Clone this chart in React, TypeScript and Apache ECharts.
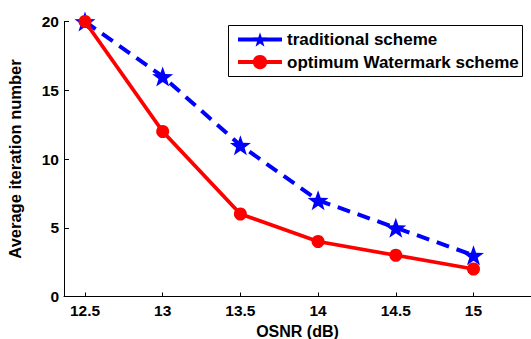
import React, { useEffect, useRef } from "react";
import * as echarts from "echarts";

const osnr = [12.5, 13, 13.5, 14, 14.5, 15];
const traditional = [20, 16, 11, 7, 5, 3];
const optimum = [20, 12, 6, 4, 3, 2];
const xTicks = [12.5, 13, 13.5, 14, 14.5, 15];
const yTicks = [0, 5, 10, 15, 20];

const STAR =
  "path://M0,-10 L2.35,-3.24 L9.51,-3.09 L3.8,1.24 L5.88,8.09 L0,4 L-5.88,8.09 L-3.8,1.24 L-9.51,-3.09 L-2.35,-3.24 Z";

const FONT = "'Liberation Sans', Arial, Helvetica, sans-serif";

export default function App() {
  const ref = useRef<HTMLDivElement>(null);
  useEffect(() => {
    if (!ref.current) return;
    const chart = echarts.init(ref.current, null, { renderer: "svg" });
    chart.setOption({
      animation: false,
      backgroundColor: "#ffffff",
      textStyle: { fontFamily: FONT },
      grid: {
        left: 64,
        right: 0,
        top: 21.5,
        bottom: 42.5,
        containLabel: false,
        outerBoundsMode: "none",
      },
      xAxis: {
        type: "value",
        min: 12.365,
        max: 15.37,
        name: "OSNR (dB)",
        nameLocation: "middle",
        nameGap: 22,
        nameTextStyle: { fontSize: 16, fontWeight: "bold", color: "#000", fontFamily: FONT },
        axisLine: { show: true, onZero: false, lineStyle: { color: "#000", width: 1 } },
        axisTick: { show: true, inside: true, length: 4, customValues: xTicks, lineStyle: { color: "#000" } },
        axisLabel: {
          customValues: xTicks,
          fontSize: 15.5,
          fontWeight: "bold",
          color: "#000",
          margin: 6,
          fontFamily: FONT,
          formatter: (v: number) => String(v),
        },
        splitLine: { show: false },
      },
      yAxis: {
        type: "value",
        min: 0,
        max: 20,
        interval: 5,
        name: "Average iteration number",
        nameLocation: "middle",
        nameGap: 41,
        nameTextStyle: { fontSize: 16.5, fontWeight: "bold", color: "#000", fontFamily: FONT },
        axisLine: { show: true, lineStyle: { color: "#000", width: 1 } },
        axisTick: { show: true, inside: true, length: 5, customValues: yTicks, lineStyle: { color: "#000" } },
        axisLabel: {
          customValues: yTicks,
          fontSize: 15.5,
          fontWeight: "bold",
          color: "#000",
          margin: 5,
          fontFamily: FONT,
        },
        splitLine: { show: false },
      },
      legend: {
        orient: "vertical",
        left: 236,
        top: 31,
        itemWidth: 44,
        itemHeight: 18,
        itemGap: 5.6,
        padding: 0,
        lineStyle: { type: "solid", width: 4 },
        textStyle: { fontSize: 17, fontWeight: "bold", color: "#000", fontFamily: FONT },
        data: ["traditional scheme", "optimum Watermark scheme"],
      },
      graphic: [
        {
          type: "rect",
          shape: { x: 228.5, y: 25.5, width: 294, height: 51 },
          style: { fill: "none", stroke: "#000", lineWidth: 1 },
          z: 0,
          silent: true,
        },
      ],
      series: [
        {
          name: "traditional scheme",
          type: "line",
          data: osnr.map((x, i) => [x, traditional[i]]),
          color: "#0000ff",
          lineStyle: { color: "#0000ff", width: 4, type: [13, 8] },
          symbol: STAR,
          symbolSize: 21,
          symbolKeepAspect: true,
          itemStyle: { color: "#0000ff" },
          z: 2,
        },
        {
          name: "optimum Watermark scheme",
          type: "line",
          data: osnr.map((x, i) => [x, optimum[i]]),
          color: "#ff0000",
          lineStyle: { color: "#ff0000", width: 3.8 },
          symbol: "circle",
          symbolSize: 13,
          itemStyle: { color: "#ff0000" },
          z: 3,
        },
      ],
    });
    return () => chart.dispose();
  }, []);
  return <div ref={ref} style={{ width: 531, height: 339, position: "absolute", left: 0, top: 0 }} />;
}
